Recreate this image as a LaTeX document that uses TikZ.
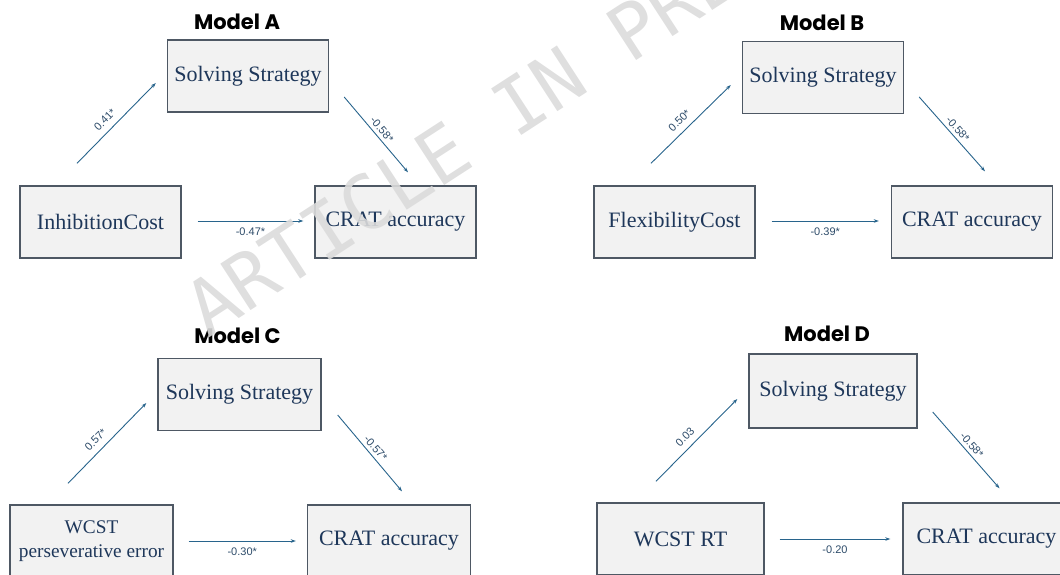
\documentclass[tikz,border=0pt]{standalone}
\usepackage{fontspec}
\setmainfont{Liberation Serif}
\setsansfont{Liberation Sans}
\newfontfamily\titlefont{Poppins}
\newfontfamily\stampfont{DejaVu Sans Mono}
\usetikzlibrary{arrows.meta}
\definecolor{boxfill}{RGB}{242,242,242}
\definecolor{boxline}{RGB}{78,88,100}
\definecolor{boxtext}{RGB}{30,55,90}
\definecolor{arrline}{RGB}{40,100,140}
\definecolor{labtext}{RGB}{45,75,105}
\begin{document}
\begin{tikzpicture}[x=1pt, y=-1pt,
    var/.style={draw=boxline, line width=1.4pt, fill=boxfill, text=boxtext,
                minimum width=161pt, minimum height=72pt, align=center,
                inner sep=2pt, font=\fontsize{22}{25}\selectfont},
    title/.style={font=\titlefont\bfseries\fontsize{21}{24}\selectfont},
    arr/.style={-{Stealth[length=5pt,width=3.5pt]}, draw=arrline, line width=0.9pt},
    coef/.style={font=\sffamily\fontsize{11}{12}\selectfont, text=labtext},
    watermark/.style={font=\stampfont\fontsize{76}{80}\selectfont, text=black!14,
                      opacity=0.9, inner sep=0pt}
  ]
    \useasboundingbox (0,0) rectangle (1060,574);

    % Model A
    \node[title] (titleA) at (237,22) {Model A};
    \node[var] (ssA) at (248,76)    {Solving Strategy};
    \node[var] (ic)  at (100.5,222) {InhibitionCost};
    \node[var] (crA) at (395.5,222) {CRAT accuracy};

    \draw[arr] ([shift={(-23.5,-22)}]ic.north) -- ([shift={(-11,7)}]ssA.west)
      node[pos=0.45, sloped, above=3pt, coef] {0.41*};
    \draw[arr] ([shift={(15,21)}]ssA.east) -- ([shift={(12.5,-13)}]crA.north)
      node[midway, sloped, above, coef] {-0.58*};
    \draw[arr] ([shift={(16,-1)}]ic.east) -- ([shift={(-11,-1)}]crA.west)
      node[midway, below=3pt, coef] {-0.47*};

    % Model B
    \node[title] (titleB) at (822,23) {Model B};
    \node[var] (ssB) at (823,77.5)  {Solving Strategy};
    \node[var] (fc)  at (674.5,222) {FlexibilityCost};
    \node[var] (crB) at (972,222)   {CRAT accuracy};

    \draw[arr] ([shift={(-23.5,-22)}]fc.north) -- ([shift={(-11,7.5)}]ssB.west)
      node[pos=0.45, sloped, above=3pt, coef] {0.50*};
    \draw[arr] ([shift={(15,19.5)}]ssB.east) -- ([shift={(13,-14)}]crB.north)
      node[midway, sloped, above, coef] {-0.58*};
    \draw[arr] ([shift={(16,-1)}]fc.east) -- ([shift={(-12,-1)}]crB.west)
      node[midway, below=3pt, coef] {-0.39*};

    % Model C
    \node[title] (titleC) at (237.5,336) {Model C};
    \node[var, minimum width=163pt] (ssC) at (239.5,394.5) {Solving Strategy};
    \node[var, minimum width=163pt, font=\fontsize{19.3}{24}\selectfont]
      (wp) at (91.5,541) {WCST\\perseverative error};
    \node[var, minimum width=163pt] (crC) at (389,541) {CRAT accuracy};

    \draw[arr] ([shift={(-23.5,-21)}]wp.north) -- ([shift={(-11,8.5)}]ssC.west)
      node[pos=0.45, sloped, above=3pt, coef] {0.57*};
    \draw[arr] ([shift={(16,20.5)}]ssC.east) -- ([shift={(13,-13)}]crC.north)
      node[midway, sloped, above, coef] {-0.57*};
    \draw[arr] ([shift={(15,0)}]wp.east) -- ([shift={(-11,0)}]crC.west)
      node[midway, below=3pt, coef] {-0.30*};

    % Model D
    \node[title] (titleD) at (827,334) {Model D};
    \node[var, minimum width=168pt, minimum height=74pt] (ssD) at (833,391) {Solving Strategy};
    \node[var, minimum width=167pt] (rt)  at (680.5,539) {WCST RT};
    \node[var, minimum width=167pt] (crD) at (986.5,539) {CRAT accuracy};

    \draw[arr] ([shift={(-24.5,-21)}]rt.north) -- ([shift={(-11,8)}]ssD.west)
      node[pos=0.45, sloped, above=3pt, coef] {0.03};
    \draw[arr] ([shift={(15,21)}]ssD.east) -- ([shift={(13,-14)}]crD.north)
      node[midway, sloped, above, coef] {-0.58*};
    \draw[arr] ([shift={(15,0)}]rt.east) -- ([shift={(-12,0)}]crD.west)
      node[midway, below=3pt, coef] {-0.20};

    % overprint
    \node[watermark, rotate=33, anchor=base west] (wm) at (208,339) {ARTICLE IN PRESS};
  \end{tikzpicture}
\end{document}
